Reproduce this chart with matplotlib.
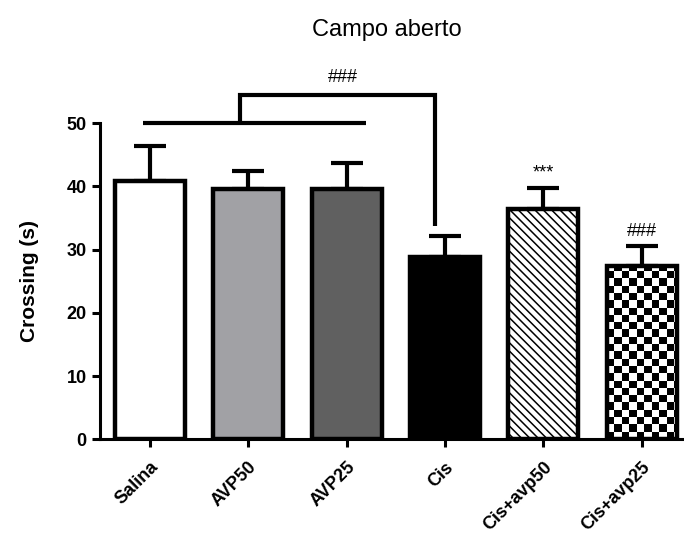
import numpy as np
import matplotlib.pyplot as plt

plt.rcParams['font.family'] = ['Liberation Sans', 'DejaVu Sans']

# data
groups = ['Salina', 'AVP50', 'AVP25', 'Cis', 'Cis+avp50', 'Cis+avp25']
means = [40.8, 39.6, 39.6, 28.8, 36.4, 27.4]
sem = [5.6, 2.8, 4.1, 3.3, 3.3, 3.1]
colors = ['white', '#a1a1a5', '#606060', 'black', 'white', 'none']
hatches = ['', '', '', '', '\\\\\\\\', '']
marks = ['', '', '', '', '***', '###']

fig = plt.figure(figsize=(6.84, 5.47), dpi=100)
ax = fig.add_axes([0.146, 0.197, 0.854, 0.578])

x = np.arange(len(groups))
width = 0.71

plt.rcParams['hatch.linewidth'] = 1.1
ax.errorbar(x, means, yerr=[np.zeros(len(sem)), sem], fmt='none', ecolor='black',
            elinewidth=3, capsize=11.5, capthick=3, zorder=1)
bars = ax.bar(x, means, width=width, color=colors, edgecolor='black',
              linewidth=3.2, hatch=hatches, zorder=2)

# checkerboard fill for the last bar
b = bars[5]
cell_x, cell_y = 0.076, 1.15
nx = int(np.ceil(width / cell_x))
ny = int(np.ceil(means[5] / cell_y))
board = (np.add.outer(np.arange(ny), np.arange(nx)) % 2).astype(float)
img = ax.imshow(board, cmap='gray', interpolation='nearest', origin='lower',
                extent=[b.get_x(), b.get_x() + nx * cell_x, 0, ny * cell_y],
                aspect='auto', zorder=1.5)
img.set_clip_path(b)

# significance marks over bars
for xi, m, e, s in zip(x, means, sem, marks):
    if s:
        ax.text(xi, m + e + 1.0, s, ha='center', va='bottom', fontsize=13)

# comparison bracket: control groups vs Cis
ax.plot([-0.07, 2.2], [50, 50], color='black', lw=3, clip_on=False, solid_capstyle='butt')
ax.plot([0.92, 0.92, 2.9, 2.9], [50, 54.4, 54.4, 33.7], color='black', lw=3,
        clip_on=False, solid_joinstyle='miter', solid_capstyle='butt')
ax.text(1.96, 55.8, '###', ha='center', va='bottom', fontsize=13)

ax.set_xlim(-0.51, 5.43)
ax.set_ylim(0, 50)
ax.set_yticks([0, 10, 20, 30, 40, 50])
ax.set_xticks(x)
ax.set_xticklabels(groups, rotation=45, ha='right', rotation_mode='anchor',
                   fontsize=13, fontweight='bold')
for lab in ax.get_yticklabels():
    lab.set_fontweight('bold')
ax.tick_params(axis='y', labelsize=13, width=2.2, length=6)
ax.tick_params(axis='x', width=2.2, length=6, pad=8)
ax.set_ylabel('Crossing (s)', fontsize=15, fontweight='bold', labelpad=20)

for side in ['top', 'right']:
    ax.spines[side].set_visible(False)
ax.spines['left'].set_linewidth(2.2)
ax.spines['bottom'].set_linewidth(2.2)

fig.text(0.566, 0.945, 'Campo aberto', ha='center', va='center', fontsize=17)

fig.savefig('out.png', dpi=100)
